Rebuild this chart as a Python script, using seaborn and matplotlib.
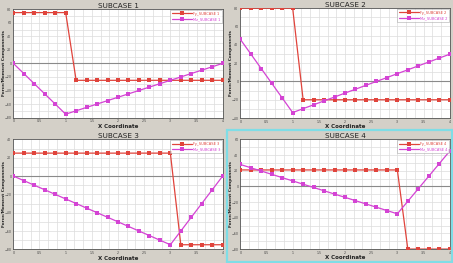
import numpy as np
import pandas as pd
import matplotlib
matplotlib.use("Agg")
import matplotlib.pyplot as plt
from matplotlib.patches import Rectangle
from matplotlib.ticker import MultipleLocator
import seaborn as sns

# ---- data ----
x = [0.0, 0.2, 0.4, 0.6, 0.8, 1.0, 1.2, 1.4, 1.6, 1.8, 2.0,
     2.2, 2.4, 2.6, 2.8, 3.0, 3.2, 3.4, 3.6, 3.8, 4.0]

fy1 = [75, 75, 75, 75, 75, 75, -25, -25, -25, -25, -25,
       -25, -25, -25, -25, -25, -25, -25, -25, -25, -25]
mz1 = [0, -15, -30, -45, -60, -75, -70, -65, -60, -55, -50,
       -45, -40, -35, -30, -25, -20, -15, -10, -5, 0]

fy2 = [80, 80, 80, 80, 80, 80, -20, -20, -20, -20, -20,
       -20, -20, -20, -20, -20, -20, -20, -20, -20, -20]
mz2 = [46, 30, 14, -2, -18, -34, -29.7, -25.5, -21.2, -17, -12.7,
       -8.5, -4.2, 0, 4.2, 8.5, 12.7, 17, 21.2, 25.5, 29.7]

fy3 = [25, 25, 25, 25, 25, 25, 25, 25, 25, 25, 25,
       25, 25, 25, 25, 25, -75, -75, -75, -75, -75]
mz3 = [0, -5, -10, -15, -20, -25, -30, -35, -40, -45, -50,
       -55, -60, -65, -70, -75, -60, -45, -30, -15, 0]

fy4 = [21, 21, 21, 21, 21, 21, 21, 21, 21, 21, 21,
       21, 21, 21, 21, 21, -80, -80, -80, -80, -80]
mz4 = [28, 23.8, 19.6, 15.4, 11.2, 7, 2.8, -1.4, -5.6, -9.8, -14,
       -18.2, -22.4, -26.6, -30.8, -35, -19, -3, 13, 29, 45]

titles = ["SUBCASE 1", "SUBCASE 2", "SUBCASE 3", "SUBCASE 4"]
ylims = [(-80, 80), (-40, 80), (-80, 40), (-80, 60)]
xtick_labels = ["0", "0.5", "1", "1.5", "2", "2.5", "3", "3.5", "4"]
fy_all = [fy1, fy2, fy3, fy4]
mz_all = [mz1, mz2, mz3, mz4]

# ---- style ----
sns.set_theme(style="white")
plt.rcParams['font.family'] = ['DejaVu Sans']
BG = "#d4d0c8"
RED = "#e0443c"
MAG = "#d444d4"

fig = plt.figure(figsize=(4.53, 2.63), dpi=100, facecolor=BG)

positions = [
    [0.0294, 0.553, 0.4622, 0.412],
    [0.5305, 0.551, 0.4622, 0.418],
    [0.0294, 0.052, 0.4622, 0.418],
    [0.5305, 0.053, 0.4622, 0.417],
]

for i in range(4):
    ax = fig.add_axes(positions[i])
    ax.set_facecolor("white")
    n = i + 1
    df = pd.DataFrame({
        "x": x + x,
        "y": fy_all[i] + mz_all[i],
        "series": [f"Fy_SUBCASE {n}"] * len(x) + [f"Mz_SUBCASE {n}"] * len(x),
    })
    sns.lineplot(data=df, x="x", y="y", hue="series",
                 palette=[RED, MAG], marker="s", markersize=2.4,
                 markeredgewidth=0, linewidth=0.9, ax=ax, zorder=3,
                 sort=False, estimator=None)
    ax.set_xlim(0, 4)
    ax.set_ylim(*ylims[i])
    ax.xaxis.set_minor_locator(MultipleLocator(1 / 6))
    ax.yaxis.set_major_locator(MultipleLocator(20))
    ax.yaxis.set_minor_locator(MultipleLocator(10))
    ax.grid(which="both", color="#dcdcdc", linewidth=0.5, zorder=0)
    ax.axhline(0, color="#8a8a8a", linewidth=0.8, zorder=1)
    ax.tick_params(axis="both", which="major", labelsize=2.3, length=0.8,
                   width=0.4, pad=0.5, colors="#444444")
    ax.tick_params(axis="both", which="minor", length=0)
    ax.set_xticks([0, 0.5, 1, 1.5, 2, 2.5, 3, 3.5, 4])
    ax.set_xticklabels(xtick_labels)
    for s in ax.spines.values():
        s.set_color("#555555")
        s.set_linewidth(0.6)
    ax.set_title(titles[i], fontsize=5.2, pad=1.0, color="#222222")
    ax.set_xlabel("X Coordinate", fontsize=4.0, fontweight="bold",
                  labelpad=0.3, color="#222222")
    ax.set_ylabel("Force/Moment Components", fontsize=3.1, fontweight="bold",
                  color="#222222")
    ax.yaxis.set_label_coords(-0.037, 0.5)
    leg = ax.legend(loc="upper right", fontsize=2.6, frameon=True,
                    fancybox=False, borderpad=0.4, handlelength=5.5,
                    labelspacing=0.5, borderaxespad=0.3, handletextpad=0.3)
    leg.get_frame().set_edgecolor("#999999")
    leg.get_frame().set_linewidth(0.4)
    for t, c in zip(leg.get_texts(), [RED, MAG]):
        t.set_color(c)

# selection border around subcase 4
fig.patches.append(Rectangle((0.500, 0.004), 0.497, 0.502, transform=fig.transFigure,
                             fill=False, edgecolor="#7fdde6", linewidth=1.6))

fig.savefig("out.png", dpi=100, facecolor=BG)
